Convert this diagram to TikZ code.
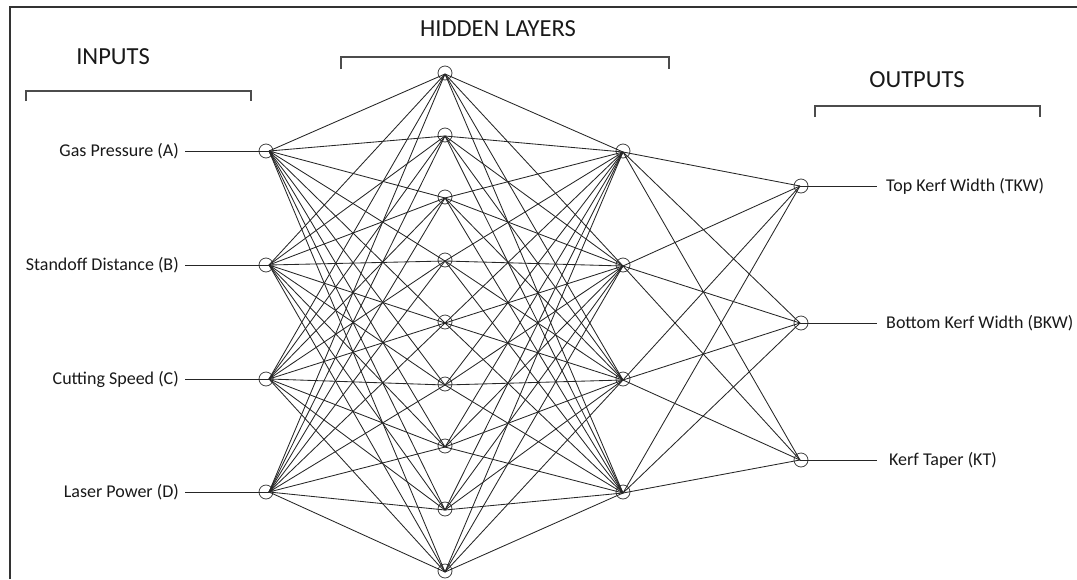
\documentclass[tikz,border=0pt]{standalone}
\usepackage{fontspec}
\setmainfont{Carlito}
\begin{document}
\begin{tikzpicture}[x=1pt,y=-1pt,
  neuron/.style={circle,draw=black!75,line width=0.8pt,minimum size=14pt,inner sep=0pt},
  edge/.style={draw=black!85,line width=0.85pt},
  lbl/.style={font=\fontsize{18}{20}\selectfont,text=black!90,inner sep=0pt},
  head/.style={font=\fontsize{24.5}{28}\selectfont,text=black!90,inner sep=0pt},
  brk/.style={draw=black!70,line width=1.1pt},
  frame/.style={draw=black!80,line width=2.6pt}]
\useasboundingbox (0,0) rectangle (1077,579);
% frame
\coordinate (fl) at (10,579);
\coordinate (fc) at (10,7);
\coordinate (fr) at (1077,7);
\draw[frame] (fl) -- (fc) -- (fr);
% headings
\node[head] (hin) at (113,57) {INPUTS};
\node[head] (hhid) at (498,29) {HIDDEN LAYERS};
\node[head] (hout) at (917,80) {OUTPUTS};
% brackets
\draw[brk] (26,101) -- (26,91) -- (251,91) -- (251,101);
\draw[brk] (341,69) -- (341,57) -- (669,57) -- (669,69);
\draw[brk] (815,117) -- (815,106) -- (1040,106) -- (1040,117);
% input nodes
\foreach \i/\y in {1/151,2/265,3/379,4/492}{
  \coordinate (I\i) at (269,\y);
  \node[neuron] (Ic\i) at (266,\y) {};
}
% hidden 1
\foreach \i/\y in {1/74,2/136,3/198,4/261,5/323,6/385,7/447,8/510,9/572}{
  \coordinate (H\i) at (445,\y);
  \node[neuron] (Hc\i) at (445,\y-1) {};
}
% hidden 2
\foreach \i/\y in {1/152,2/266,3/380,4/493}{
  \coordinate (G\i) at (623,\y);
  \node[neuron] (Gc\i) at (623,\y-1) {};
}
% outputs
\foreach \i/\y in {1/186,2/323,3/460}{
  \coordinate (O\i) at (800,\y);
  \node[neuron] (Oc\i) at (801,\y) {};
}
% connections
\foreach \a in {1,...,4}{\foreach \b in {1,...,9}{\draw[edge] (I\a) -- (H\b);}}
\foreach \a in {1,...,9}{\foreach \b in {1,...,4}{\draw[edge] (H\a) -- (G\b);}}
\foreach \a in {1,...,4}{\foreach \b in {1,...,3}{\draw[edge] (G\a) -- (O\b);}}
% input labels
\foreach \i/\t in {1/Gas Pressure (A),2/Standoff Distance (B),3/Cutting Speed (C),4/Laser Power (D)}{
  \node[lbl,anchor=east] (L\i) at (179,0|-I\i) {\t};
  \coordinate (Ls\i) at (185,0|-I\i);
  \draw[edge] (Ls\i) -- (I\i);
}
% output labels
\foreach \i/\t/\x in {1/Top Kerf Width (TKW)/886,2/Bottom Kerf Width (BKW)/886,3/Kerf Taper (KT)/889}{
  \node[lbl,anchor=west] (R\i) at (\x,0|-O\i) {\t};
  \coordinate (Rs\i) at (877,0|-O\i);
  \draw[edge] (O\i) -- (Rs\i);
}
\end{tikzpicture}
\end{document}
